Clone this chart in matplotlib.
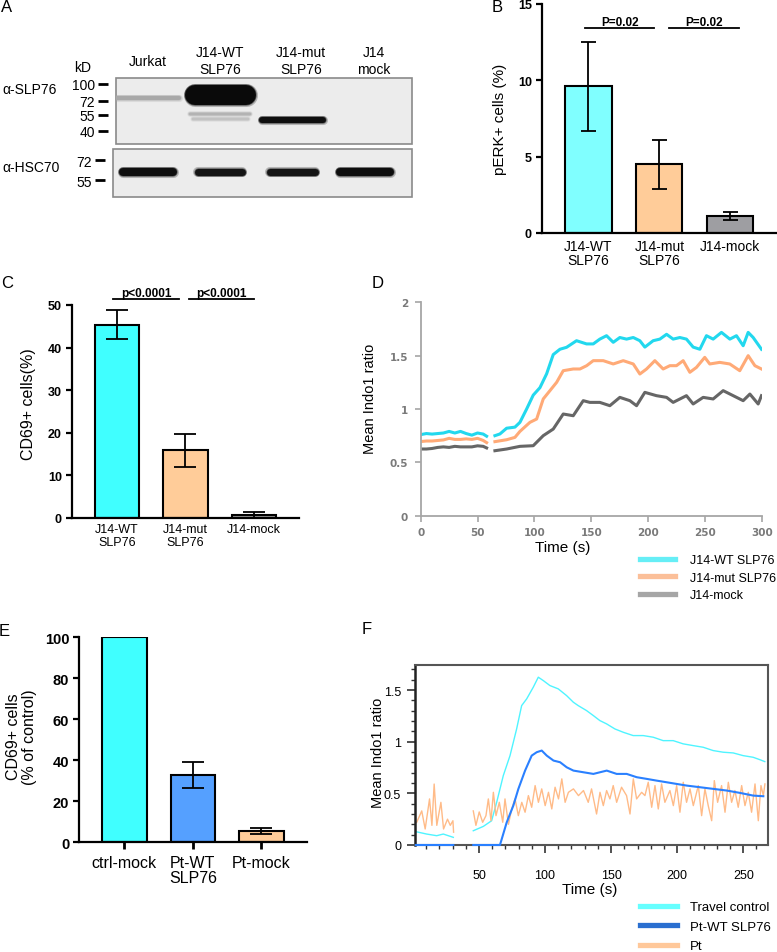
import numpy as np
import matplotlib
matplotlib.use("Agg")
import matplotlib.pyplot as plt
import matplotlib.transforms as mtransforms
from matplotlib.lines import Line2D
from matplotlib.patches import Rectangle
from matplotlib.ticker import MultipleLocator, NullLocator

plt.rcParams['font.family'] = ['Liberation Sans', 'DejaVu Sans']

nan = np.nan

# ---------------- A: western blot ----------------
lanes = ['Jurkat', 'J14-WT\nSLP76', 'J14-mut\nSLP76', 'J14\nmock']
slp_markers = [100, 72, 55, 40]
hsc_markers = [72, 55]
# bands: lane, apparent size (kD), half width (lanes), thickness (px), grey level
slp_lane = [0, 1, 1, 1, 2]
slp_kd = [76, 81, 56, 50, 49]
slp_halfw = [0.46, 0.49, 0.43, 0.40, 0.46]
slp_thick = [4, 20, 2.5, 2.5, 6]
slp_grey = [0.66, 0.04, 0.70, 0.76, 0.06]
hsc_lane = [0, 1, 2, 3]
hsc_kd = [61, 61, 61, 61]
hsc_halfw = [0.40, 0.35, 0.36, 0.40]
hsc_thick = [8, 7, 7, 8]
hsc_grey = [0.06, 0.08, 0.08, 0.05]

# ---------------- B: pERK+ cells ----------------
b_labels = ['J14-WT\nSLP76', 'J14-mut\nSLP76', 'J14-mock']
b_mean = [9.6, 4.5, 1.1]
b_err = [2.9, 1.6, 0.25]
b_pval = ['P=0.02', 'P=0.02']

# ---------------- C: CD69+ cells ----------------
c_labels = ['J14-WT\nSLP76', 'J14-mut\nSLP76', 'J14-mock']
c_mean = [45.4, 15.8, 0.6]
c_err = [3.4, 3.9, 0.8]
c_pval = ['p<0.0001', 'p<0.0001']

# ---------------- D: Indo1, J14 lines ----------------
d_wt_t = [0, 5, 10, 15, 20, 25, 30, 35, 40, 45, 50, 55, 58, nan,
          65.3, 69.7, 75.6, 82.9, 87.3, 93.2, 99.0, 104.9, 110.8, 116.6,
          122.5, 128.3, 137.1, 145.9, 151.8, 157.6, 163.5, 169.4, 175.2, 181.1,
          187.0, 192.8, 197.2, 204.5, 210.4, 216.3, 222.1, 228.0, 233.8, 239.7,
          245.6, 251.4, 257.3, 264.6, 272.0, 277.8, 283.7, 288.1, 292.5, 299.8]
d_wt_v = [0.76, 0.77, 0.765, 0.77, 0.775, 0.79, 0.775, 0.79, 0.77, 0.755, 0.775, 0.765, 0.745, nan,
          0.75, 0.766, 0.82, 0.83, 0.875, 1.0, 1.13, 1.2, 1.33, 1.51,
          1.56, 1.578, 1.64, 1.61, 1.61, 1.655, 1.687, 1.625, 1.67, 1.655,
          1.67, 1.64, 1.58, 1.64, 1.655, 1.70, 1.655, 1.67, 1.655, 1.58,
          1.56, 1.687, 1.655, 1.718, 1.655, 1.687, 1.593, 1.718, 1.67, 1.56]
d_mut_t = [0, 5, 10, 15, 20, 25, 30, 35, 40, 45, 50, 55, 58, nan,
           65.3, 75.6, 82.9, 87.3, 96.1, 102.0, 107.8, 113.7, 119.6, 125.4,
           134.2, 140.1, 146.0, 151.8, 160.6, 169.4, 178.2, 187.0, 192.8, 198.7,
           206.0, 213.3, 219.2, 225.0, 230.9, 236.8, 242.6, 249.9, 254.3, 263.1,
           271.9, 280.7, 288.1, 294.0, 299.8]
d_mut_v = [0.695, 0.70, 0.70, 0.705, 0.71, 0.725, 0.715, 0.715, 0.72, 0.715, 0.725, 0.705, 0.685, nan,
           0.694, 0.712, 0.734, 0.79, 0.875, 0.906, 1.094, 1.172, 1.25, 1.359,
           1.375, 1.375, 1.406, 1.453, 1.453, 1.422, 1.453, 1.422, 1.328, 1.375,
           1.453, 1.375, 1.406, 1.406, 1.453, 1.344, 1.39, 1.484, 1.422, 1.437,
           1.422, 1.359, 1.50, 1.406, 1.375]
d_mock_t = [0, 5, 10, 15, 20, 25, 30, 35, 40, 45, 50, 55, 58, nan,
            65.3, 75.6, 87.3, 99.0, 107.8, 116.6, 125.4, 134.2, 143.0, 148.8,
            157.6, 166.4, 175.2, 184.0, 189.9, 197.2, 207.4, 216.3, 222.1, 233.8,
            239.7, 248.5, 257.3, 266.1, 274.9, 283.7, 289.6, 296.9, 299.8]
d_mock_v = [0.625, 0.625, 0.63, 0.64, 0.645, 0.64, 0.65, 0.645, 0.645, 0.645, 0.655, 0.65, 0.635, nan,
            0.609, 0.625, 0.65, 0.656, 0.75, 0.812, 0.953, 0.937, 1.078, 1.062,
            1.062, 1.031, 1.109, 1.078, 1.031, 1.156, 1.125, 1.109, 1.062, 1.125,
            1.047, 1.109, 1.094, 1.172, 1.125, 1.078, 1.14, 1.047, 1.125]
d_names = ['J14-WT SLP76', 'J14-mut SLP76', 'J14-mock']

# ---------------- E: CD69+ patient cells ----------------
e_labels = ['ctrl-mock', 'Pt-WT\nSLP76', 'Pt-mock']
e_mean = [100, 32.8, 5.6]
e_err = [0, 6.2, 1.4]

# ---------------- F: Indo1, patient cells ----------------
f_ctrl_t = [2.3, 10.4, 18, 23, 30.6, nan,
            45.7, 53.3, 59.6, 63.4, 68.4, 73.5, 78.5, 82.3, 86.1, 91.1,
            94.9, 98.7, 103.7, 110.0, 116.3, 121.4, 125.1, 131.4, 136.5, 141.5,
            146.6, 152.9, 159.2, 166.7, 174.3, 181.9, 189.4, 197, 204.5, 212.1,
            219.7, 227.2, 234.8, 242.4, 249.9, 257.5, 262.5, 266.3]
f_ctrl_v = [0.129, 0.106, 0.09, 0.106, 0.074, nan,
            0.138, 0.18, 0.235, 0.413, 0.671, 0.865, 1.123, 1.349, 1.414, 1.527,
            1.624, 1.591, 1.543, 1.511, 1.446, 1.382, 1.349, 1.301, 1.253, 1.204,
            1.172, 1.123, 1.091, 1.059, 1.059, 1.043, 1.01, 1.01, 0.979, 0.962,
            0.946, 0.914, 0.898, 0.891, 0.865, 0.849, 0.826, 0.807]
f_wt_t = [2.3, 30.6, nan, 45.7, 65.9,
          71.0, 76, 79.8, 84.9, 89.9, 93.7, 97.5, 101.3, 106.4, 111.4,
          116.4, 121.5, 129, 136.6, 141.6, 146.7, 154.2, 161.8, 169.4, 176.9,
          184.5, 192.1, 199.6, 207.2, 217.3, 227.4, 237.5, 247.6, 257.6, 265.2]
f_wt_v = [0, 0, nan, 0, 0,
          0.219, 0.381, 0.542, 0.72, 0.865, 0.898, 0.914, 0.865, 0.817, 0.801,
          0.752, 0.72, 0.704, 0.688, 0.704, 0.72, 0.688, 0.688, 0.656, 0.64,
          0.623, 0.607, 0.591, 0.575, 0.559, 0.543, 0.527, 0.504, 0.478, 0.472]
f_pt_t = [2.9, 6.7, 9.3, 12.6, 14.4, 16.1, 18.1, 21.2, 23.2, 26.2, 28.3, 30.3, 30.8, nan,
          45.7, 47.7, 50.2, 52.8, 55.3, 57.1, 59.1, 60.9, 62.9, 65.4,
          68.0, 69.7, 72.3, 74.8, 77.3, 79.8, 82.4, 84.9, 87.4, 89.9,
          92.5, 95, 97.5, 100.1, 102.6, 105.1, 107.6, 110.2, 112.7, 115.2,
          117.7, 121.5, 125.3, 129.1,
          132.7, 135.2, 139, 141.6, 144.1, 146.6, 149.1, 151.6, 154.2, 157.9,
          161.7, 164.3, 166.8, 169.3, 173.1, 175.6, 178.1, 180.7, 183.2, 185.7,
          188.2, 190.7, 194.5, 197.1, 199.6, 202.1, 204.6, 207.1, 209.7, 212.2,
          216, 218.5, 221, 223.5, 226.1, 228.1, 230.6, 233.6, 236.2, 238.7,
          241.2, 243.7, 246.2, 248.8, 251.3, 253.8, 256.3, 258.9, 261.4, 263.4,
          265.2, 266.4]
f_pt_v = [0.22, 0.33, 0.155, 0.446, 0.19, 0.59, 0.19, 0.413, 0.155, 0.25, 0.19, 0.235, 0.124, nan,
          0.33, 0.19, 0.32, 0.22, 0.284, 0.446, 0.235, 0.51, 0.284, 0.413,
          0.22, 0.446, 0.2, 0.349, 0.446, 0.284, 0.413, 0.317, 0.478, 0.365,
          0.575, 0.413, 0.543, 0.381, 0.51, 0.349, 0.559, 0.446, 0.64, 0.413,
          0.51, 0.543, 0.478, 0.527,
          0.413, 0.543, 0.3, 0.51, 0.381, 0.527, 0.446, 0.575, 0.413, 0.559,
          0.478, 0.3, 0.64, 0.446, 0.51, 0.478, 0.607, 0.365, 0.575, 0.349,
          0.591, 0.413, 0.527, 0.381, 0.575, 0.317, 0.607, 0.413, 0.543, 0.381,
          0.575, 0.284, 0.543, 0.381, 0.235, 0.623, 0.413, 0.575, 0.317, 0.607,
          0.413, 0.527, 0.365, 0.575, 0.381, 0.51, 0.317, 0.591, 0.235, 0.575,
          0.478, 0.591]
f_names = ['Travel control', 'Pt-WT SLP76', 'Pt']

# ================= figure =================
W, H = 777, 953
fig = plt.figure(figsize=(W / 100, H / 100), dpi=100)


def rect(x0, y0, x1, y1):
    # pixel box (top-left origin) -> figure fraction
    return [x0 / W, 1 - y1 / H, (x1 - x0) / W, (y1 - y0) / H]


def fig_text(x, y, s, **kw):
    fig.text(x / W, 1 - y / H, s, **kw)


for lab, (x, y) in zip('ABCDEF', [(7, 8), (497, 8), (7, 284), (378, 284), (4, 631), (367, 629)]):
    fig_text(x, y, lab, fontsize=12, ha='center', va='center')


# ---------- A ----------
def blot(box, ylim, markers, lane, kd, halfw, thick, grey, xlim):
    ax = fig.add_axes(rect(*box))
    ax.set_facecolor('#ececec')
    ax.set_yscale('log')
    ax.set_xlim(*xlim)
    ax.set_ylim(*ylim)
    px_per_lane = (box[2] - box[0]) / (xlim[1] - xlim[0])
    for ln, k, hw, th, g in zip(lane, kd, halfw, thick, grey):
        cap = th / 2 / px_per_lane
        lw = th * 0.72
        # soft edge, then solid core
        for extra, alpha in [(2.2, 0.25), (1.1, 0.5), (0.0, 1.0)]:
            ax.plot([ln - hw + cap, ln + hw - cap], [k, k], color=str(g), lw=lw + extra,
                    alpha=alpha, solid_capstyle='round')
    ax.yaxis.set_minor_locator(NullLocator())
    ax.set_yticks(markers, [str(m) for m in markers])
    ax.set_xticks([])
    for s in ax.spines.values():
        s.set_visible(False)
    ax.spines['left'].set_position(('outward', 6))
    ax.tick_params(axis='y', length=7, width=2, pad=2, labelsize=10)
    ax.add_patch(Rectangle((0, 0), 1, 1, transform=ax.transAxes, fill=False,
                           ec='#8a8a8a', lw=1.2, clip_on=False))
    return ax


axA1 = blot((116, 79, 412, 145), (31, 112), slp_markers, slp_lane, slp_kd, slp_halfw,
            slp_thick, slp_grey, (-0.44, 3.65))
axA2 = blot((113, 150, 412, 198), (43.8, 83.5), hsc_markers, hsc_lane, hsc_kd, hsc_halfw,
            hsc_thick, hsc_grey, (-0.48, 3.65))
trans = mtransforms.blended_transform_factory(axA1.transData, axA1.transAxes)
for i, name in enumerate(lanes):
    axA1.text(i + (0.12 if i >= 2 else 0.0), 1.26, name, transform=trans, ha='center',
              va='center', fontsize=10, linespacing=1.25)
fig_text(83, 68, 'kD', fontsize=10, ha='center', va='center')
fig_text(2, 90, 'α-SLP76', fontsize=10, ha='left', va='center')
fig_text(2, 168, 'α-HSC70', fontsize=10, ha='left', va='center')


# ---------- bar panels ----------
def bar_panel(box, labels, mean, err, colors, ymax, ystep, capsize, ytick_size, xtick_size,
              xticks=False):
    ax = fig.add_axes(rect(*box))
    x = np.arange(len(mean))
    ax.bar(x, mean, width=0.65, color=colors, edgecolor='black', linewidth=1.5, zorder=2)
    ax.errorbar(x, mean, yerr=err, fmt='none', ecolor='black', elinewidth=1.3,
                capsize=capsize, capthick=1.3, zorder=3)
    ax.set_xlim(-0.66, len(mean) - 0.34)
    ax.set_ylim(0, ymax)
    ax.set_yticks(np.arange(0, ymax + 1, ystep))
    ax.set_xticks(x, labels)
    for s in ['top', 'right']:
        ax.spines[s].set_visible(False)
    for s in ['left', 'bottom']:
        ax.spines[s].set_linewidth(1.6)
    ax.tick_params(axis='y', length=4, width=1.6, pad=3, labelsize=ytick_size)
    if xticks:
        ax.tick_params(axis='x', length=5, width=2, pad=4, labelsize=xtick_size)
    else:
        ax.tick_params(axis='x', length=0, pad=4, labelsize=xtick_size)
    for lbl in ax.get_yticklabels():
        lbl.set_fontweight('bold')
    for lbl in ax.get_xticklabels():
        lbl.set_linespacing(1.05)
    return ax


def sig(ax, spans, texts, y, size):
    for (a, b), t in zip(spans, texts):
        ax.plot([a, b], [y, y], color='black', lw=1.3, clip_on=False)
        ax.text((a + b) / 2, y, t, ha='center', va='bottom', fontsize=size,
                fontweight='bold', clip_on=False)


axB = bar_panel((541.7, 4.7, 777, 234), b_labels, b_mean, b_err,
                ['#80ffff', '#ffcc99', '#9e9ea2'], 15, 5, 5.4, 9, 10)
sig(axB, [(-0.05, 0.93), (1.14, 2.12)], b_pval, 13.4, 8.5)
axB.set_ylabel('pERK+ cells (%)', fontsize=11, va='center')
axB.yaxis.set_label_coords(-0.177, 0.5)

axC = bar_panel((71.7, 306, 299, 518.7), c_labels, c_mean, c_err,
                ['#40ffff', '#ffcc99', '#a0a0a0'], 50, 10, 7.8, 9, 9)
sig(axC, [(-0.06, 0.91), (1.05, 2.0)], c_pval, 51.3, 8.5)
axC.set_ylabel('CD69+ cells(%)', fontsize=11.5, va='center')
axC.yaxis.set_label_coords(-0.191, 0.54)

axE = bar_panel((79, 638.3, 306.7, 843.3), e_labels, e_mean, e_err,
                ['#40ffff', '#55a0ff', '#ffcc99'], 100, 20, 7.6, 10.5, 11.5, xticks=True)
axE.set_ylabel('CD69+ cells\n(% of control)', fontsize=11.5, va='center', linespacing=1.1)
axE.yaxis.set_label_coords(-0.2525, 0.52)

# ---------- D ----------
axD = fig.add_axes(rect(420.7, 303.3, 761.7, 516.7))
d_colors = ['#22d8ee', '#ffaa77', '#666666']
for t, v, c in zip([d_wt_t, d_mut_t, d_mock_t], [d_wt_v, d_mut_v, d_mock_v], d_colors):
    axD.plot(t, v, color=c, lw=2.2)
axD.set_xlim(0, 300)
axD.set_ylim(0, 2)
axD.set_xticks(np.arange(0, 301, 50))
axD.set_yticks([0, 0.5, 1, 1.5, 2], ['0', '0.5', '1', '1.5', '2'])
for s in ['top', 'right']:
    axD.spines[s].set_visible(False)
for s in ['left', 'bottom']:
    axD.spines[s].set_color('#a6a6a6')
    axD.spines[s].set_linewidth(1.3)
axD.tick_params(length=4, width=1.2, color='#a6a6a6', labelcolor='#7a7a7a')
axD.tick_params(axis='y', pad=5)
axD.tick_params(axis='x', pad=4)
for lbl in axD.get_xticklabels() + axD.get_yticklabels():
    lbl.set_family('DejaVu Sans')
    lbl.set_fontweight('bold')
    lbl.set_fontsize(7.5)
axD.set_xlabel('Time (s)', fontsize=11, va='center')
axD.xaxis.set_label_coords(0.417, -0.147)
axD.set_ylabel('Mean Indo1 ratio', fontsize=10.5, va='center')
axD.yaxis.set_label_coords(-0.149, 0.55)
d_handles = [Line2D([], [], color=c, lw=3.8) for c in ['#66eef6', '#fbbf99', '#a6a6a6']]
axD.legend(d_handles, d_names, loc='upper left', bbox_to_anchor=(640 / W, 1 - 555 / H),
           bbox_transform=fig.transFigure, frameon=False, fontsize=9, handlelength=2.8,
           handletextpad=1.2, labelspacing=0.45, borderpad=0, borderaxespad=0)

# ---------- F ----------
axF = fig.add_axes(rect(415, 666, 767.7, 846))
axF.plot(f_ctrl_t, f_ctrl_v, color='#4ff4ff', lw=1.0)
axF.plot(f_wt_t, f_wt_v, color='#2a80ff', lw=1.5, clip_on=False, zorder=4)
axF.plot(f_pt_t, f_pt_v, color='#ffbb88', lw=1.0)
axF.set_xlim(1.6, 268.5)
axF.set_ylim(0, 1.742)
axF.set_xticks(np.arange(50, 251, 50))
axF.set_yticks([0, 0.5, 1, 1.5], ['0', '0.5', '1', '1.5'])
axF.xaxis.set_minor_locator(MultipleLocator(10))
axF.yaxis.set_minor_locator(MultipleLocator(0.1))
for s in axF.spines.values():
    s.set_color('#555555')
    s.set_linewidth(1.5)
axF.spines['left'].set_color('#222222')
axF.spines['left'].set_linewidth(1.8)
axF.tick_params(which='major', length=6, width=1.2, color='#333333')
axF.tick_params(which='minor', length=3, width=1.0, color='#333333')
axF.tick_params(axis='x', which='major', pad=11)
axF.tick_params(axis='y', which='major', pad=4)
for lbl in axF.get_xticklabels() + axF.get_yticklabels():
    lbl.set_family(['Liberation Sans Narrow', 'Liberation Sans'])
    lbl.set_fontsize(9)
axF.set_xlabel('Time (s)', fontsize=11, va='center')
axF.xaxis.set_label_coords(0.496, -0.244)
axF.set_ylabel('Mean Indo1 ratio', fontsize=10.5, va='center')
axF.yaxis.set_label_coords(-0.105, 0.517)
f_handles = [Line2D([], [], color=c, lw=3.8) for c in ['#66ffff', '#2a6fd0', '#ffc89a']]
axF.legend(f_handles, f_names, loc='upper left', bbox_to_anchor=(640 / W, 1 - 902 / H),
           bbox_transform=fig.transFigure, frameon=False, fontsize=9.5, handlelength=2.8,
           handletextpad=1.0, labelspacing=0.55, borderpad=0, borderaxespad=0)

fig.savefig('out.png', dpi=100)
